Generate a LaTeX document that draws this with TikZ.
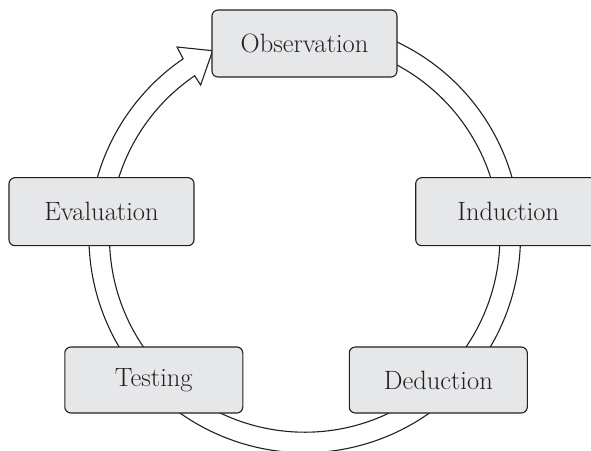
\documentclass[tikz,border=0pt]{standalone}
\usetikzlibrary{calc}
\definecolor{boxfill}{HTML}{E6E7E8}
\definecolor{ink}{HTML}{231F20}
\begin{document}
\begin{tikzpicture}[x=1pt,y=1pt,
  stagebox/.style={draw=ink, fill=boxfill, line width=1.1pt, rounded corners=6pt,
    inner sep=0pt, font=\fontsize{26.5}{30}\selectfont, text=ink},
  ringline/.style={draw=ink, fill=white, line width=1.1pt, line join=miter}]
\useasboundingbox (0,0) rectangle (591,450);
\clip (0,0) rectangle (591,450);
\coordinate (C) at (304.7,213);
% ring with arrow head
\path[ringline]
  ($(C)+(70:215.7pt)$) arc[start angle=70, end angle=-235.7, radius=215.7pt]
  -- ($(C)+(123.9:228.9pt)$) coordinate (wingA)
  -- ($(C)+(116.3:207.8pt)$) coordinate (tip)
  -- ($(C)+(124.4:184.2pt)$) coordinate (wingB)
  -- ($(C)+(-235.7:195.2pt)$) arc[start angle=-235.7, end angle=70, radius=195.2pt]
  -- cycle;
% stages
\node[stagebox, minimum width=185pt, minimum height=67pt] (obs) at (304.5,406.5) {Observation};
\node[stagebox, minimum width=185pt, minimum height=68pt] (ind) at (508.2,238.3) {Induction};
\node[stagebox, minimum width=178pt, minimum height=66pt] (ded) at (438.3,70) {Deduction};
\node[stagebox, minimum width=178pt, minimum height=66pt] (tes) at (153.8,70) {Testing};
\node[stagebox, minimum width=185pt, minimum height=68pt] (eva) at (101.5,238.3) {Evaluation};
\end{tikzpicture}
\end{document}
